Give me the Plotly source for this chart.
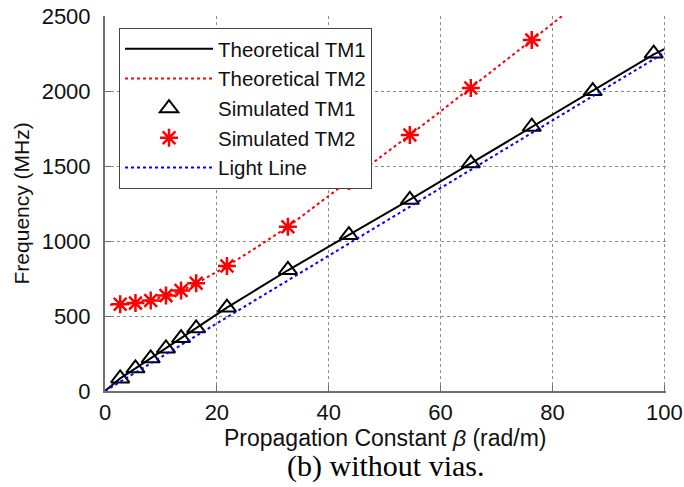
import plotly.graph_objects as go

# ---- data ----
beta_sim = [2.72, 5.45, 8.17, 10.9, 13.6, 16.3, 21.8, 32.7, 43.6, 54.5, 65.4, 76.3, 87.2, 98.1]
sim_tm1 = [84, 151, 218, 284, 353, 418, 556, 807, 1040, 1275, 1518, 1762, 2000, 2250]
beta_sim_tm2 = [2.72, 5.45, 8.17, 10.9, 13.6, 16.3, 21.8, 32.7, 43.6, 54.5, 65.4, 76.3]
sim_tm2 = [578, 586, 603, 636, 670, 718, 833, 1095, 1400, 1707, 2020, 2340]

beta_th_tm1 = [0, 2.72, 5.45, 8.17, 10.9, 13.6, 16.3, 21.8, 32.7, 43.6, 54.5, 65.4, 76.3, 87.2, 98.1, 100]
th_tm1 = [0, 84, 151, 218, 284, 353, 418, 556, 805, 1040, 1276, 1518, 1760, 2000, 2245, 2280]

beta_th_tm2 = [0.9, 2.72, 5.45, 8.17, 10.9, 13.6, 16.3, 21.8, 27.2, 32.7, 38.1, 43.6, 49.0, 54.5, 59.9, 65.4, 70.8, 76.3, 81.7]
th_tm2 = [575, 578, 586, 603, 634, 668, 716, 833, 960, 1095, 1248, 1400, 1553, 1707, 1862, 2020, 2180, 2340, 2500]

beta_light = [0, 100]
light = [0, 2255]

x_ticks = [0, 20, 40, 60, 80, 100]
y_ticks = [0, 500, 1000, 1500, 2000, 2500]

fig = go.Figure()
fig.add_trace(go.Scatter(x=beta_th_tm1, y=th_tm1, mode="lines", name="Theoretical TM1",
                         line=dict(color="black", width=2)))
fig.add_trace(go.Scatter(x=beta_th_tm2, y=th_tm2, mode="lines", name="Theoretical TM2",
                         line=dict(color="red", width=2, dash="dot")))
fig.add_trace(go.Scatter(x=beta_sim, y=sim_tm1, mode="markers", name="Simulated TM1",
                         marker=dict(symbol="triangle-up-open", size=16, color="black",
                                     line=dict(width=2, color="black")), cliponaxis=False))
fig.add_trace(go.Scatter(x=beta_sim_tm2, y=sim_tm2, mode="markers", name="Simulated TM2",
                         marker=dict(symbol="asterisk-open", size=15, color="red",
                                     line=dict(width=2.5, color="red"))))
fig.add_trace(go.Scatter(x=beta_light, y=light, mode="lines", name="Light Line",
                         line=dict(color="blue", width=2, dash="dot")))

axis_common = dict(
    showgrid=True, gridcolor="#8a8a8a", griddash="dot", gridwidth=1,
    showline=True, linecolor="#707070", linewidth=2,
    ticks="inside", ticklen=6, tickcolor="#707070", tickwidth=1,
    tickfont=dict(family="Liberation Sans, Arial", size=22, color="#111"),
    zeroline=False, mirror=False, automargin=False, ticklabeloverflow="allow",
)

fig.update_xaxes(range=[0, 100.3], tickvals=x_ticks, ticktext=[str(v) for v in x_ticks],
                 ticklabelstandoff=1, **axis_common)
fig.update_yaxes(range=[0, 2500.5], tickvals=y_ticks, ticktext=[str(v) for v in y_ticks],
                 ticklabelstandoff=8, **axis_common)

fig.update_layout(
    width=684, height=487,
    margin=dict(l=105, r=18, t=16, b=96),
    plot_bgcolor="white", paper_bgcolor="white",
    font=dict(family="Liberation Sans, Arial", size=21, color="#111"),
    showlegend=True,
    legend=dict(x=0.025, y=0.968, xanchor="left", yanchor="top",
                bgcolor="white", bordercolor="#444", borderwidth=1,
                font=dict(family="Liberation Sans, Arial", size=20.5, color="#111"),
                itemwidth=88, traceorder="normal"),
    annotations=[
        dict(text="Propagation Constant <i>β</i> (rad/m)", x=0.5, y=-0.126,
             xref="paper", yref="paper", xanchor="center", yanchor="middle",
             showarrow=False, font=dict(family="Liberation Sans, Arial", size=23, color="#111")),
        dict(text="Frequency (MHz)", x=-0.148, y=0.5, textangle=-90,
             xref="paper", yref="paper", xanchor="center", yanchor="middle",
             showarrow=False, font=dict(family="Liberation Sans, Arial", size=21, color="#111")),
        dict(text="(b) without vias.", x=0.5, y=-0.199,
             xref="paper", yref="paper", xanchor="center", yanchor="middle",
             showarrow=False, font=dict(family="Liberation Serif, Times New Roman", size=30, color="black")),
    ],
)

# remove the browser's default 8 px body margin so the figure fills the window exactly
fig.write_html("out.html", config={"displayModeBar": False},
               post_script="document.body.style.margin='0';")
